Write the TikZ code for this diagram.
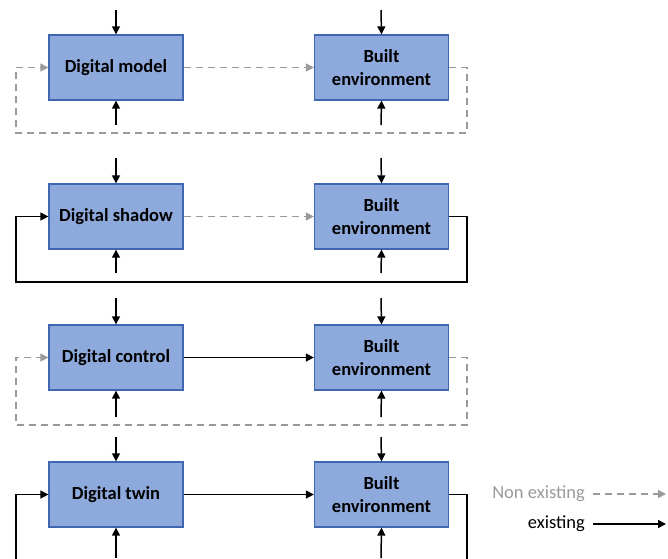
\documentclass[tikz,border=0pt]{standalone}
\usepackage{fontspec}
\setmainfont{Carlito}
\usetikzlibrary{arrows.meta}
\definecolor{boxfill}{HTML}{8EA9DB}
\definecolor{boxline}{HTML}{3F66B0}
\definecolor{ne}{HTML}{9A9A9A}
\begin{document}
\begin{tikzpicture}[x=1pt,y=-1pt,
  blk/.style={draw=boxline, line width=1.3pt, fill=boxfill, minimum width=134pt, minimum height=65pt, inner sep=0pt, align=center, font=\fontsize{18.5}{23}\selectfont\bfseries},
  ex/.style={draw=black, line width=1.5pt},
  nex/.style={draw=ne, line width=1.5pt, dash pattern=on 7pt off 5pt},
  tip/.style={-{Triangle[length=8pt,width=8pt]}},
]
\useasboundingbox (0,0) rectangle (668,558);
% rows
\foreach \r/\cy/\lbl in {1/67.5/Digital model, 2/216.5/Digital shadow, 3/357.5/Digital control, 4/494.5/Digital twin}{
  \node[blk] (L\r) at (116,\cy) {\lbl};
  \node[blk] (R\r) at (381.5,\cy) {Built\\environment};
}
% vertical arrows
\foreach \r/\t/\b in {1/10/125, 2/158/273, 3/298/417, 4/437/558}{
  \coordinate (tl\r) at (116,\t); \coordinate (bl\r) at (116,\b);
  \coordinate (tr\r) at (381,\t); \coordinate (br\r) at (381,\b);
  \draw[ex,tip] (tl\r) -- (L\r.north);
  \draw[ex,tip] (bl\r) -- (L\r.south);
  \draw[ex,tip] (tr\r) -- (R\r.north);
  \draw[ex,tip] (br\r) -- (R\r.south);
}
% row 1: all non existing
\draw[nex,tip] (L1) -- (R1);
\coordinate (p1a) at (467,133); \coordinate (p1b) at (16,133);
\draw[nex,tip] (R1.east) -| (p1a) -- (p1b) |- (L1.west);
% row 2
\draw[nex,tip] (L2) -- (R2);
\coordinate (p2a) at (467,282); \coordinate (p2b) at (16,282);
\draw[ex,tip] (R2.east) -| (p2a) -- (p2b) |- (L2.west);
% row 3
\draw[ex,tip] (L3) -- (R3);
\coordinate (p3a) at (467,425); \coordinate (p3b) at (16,425);
\draw[nex,tip] (R3.east) -| (p3a) -- (p3b) |- (L3.west);
% row 4
\draw[ex,tip] (L4) -- (R4);
\coordinate (p4a) at (467,570); \coordinate (p4b) at (16,570);
\draw[ex] (R4.east) -| (p4a);
\draw[ex,tip] (p4b) |- (L4.west);
% legend
\node[anchor=east, text=ne, font=\fontsize{18.5}{22}\selectfont, inner sep=0pt] (ln) at (585,494) {Non existing};
\node[anchor=east, font=\fontsize{18.5}{22}\selectfont, inner sep=0pt] (le) at (585,524) {existing};
\coordinate (ln2) at (666,494); \coordinate (le2) at (666,524);
\draw[nex,tip] ([xshift=8pt]ln.east) -- (ln2);
\draw[ex,tip] ([xshift=8pt]le.east) -- (le2);
\end{tikzpicture}
\end{document}
